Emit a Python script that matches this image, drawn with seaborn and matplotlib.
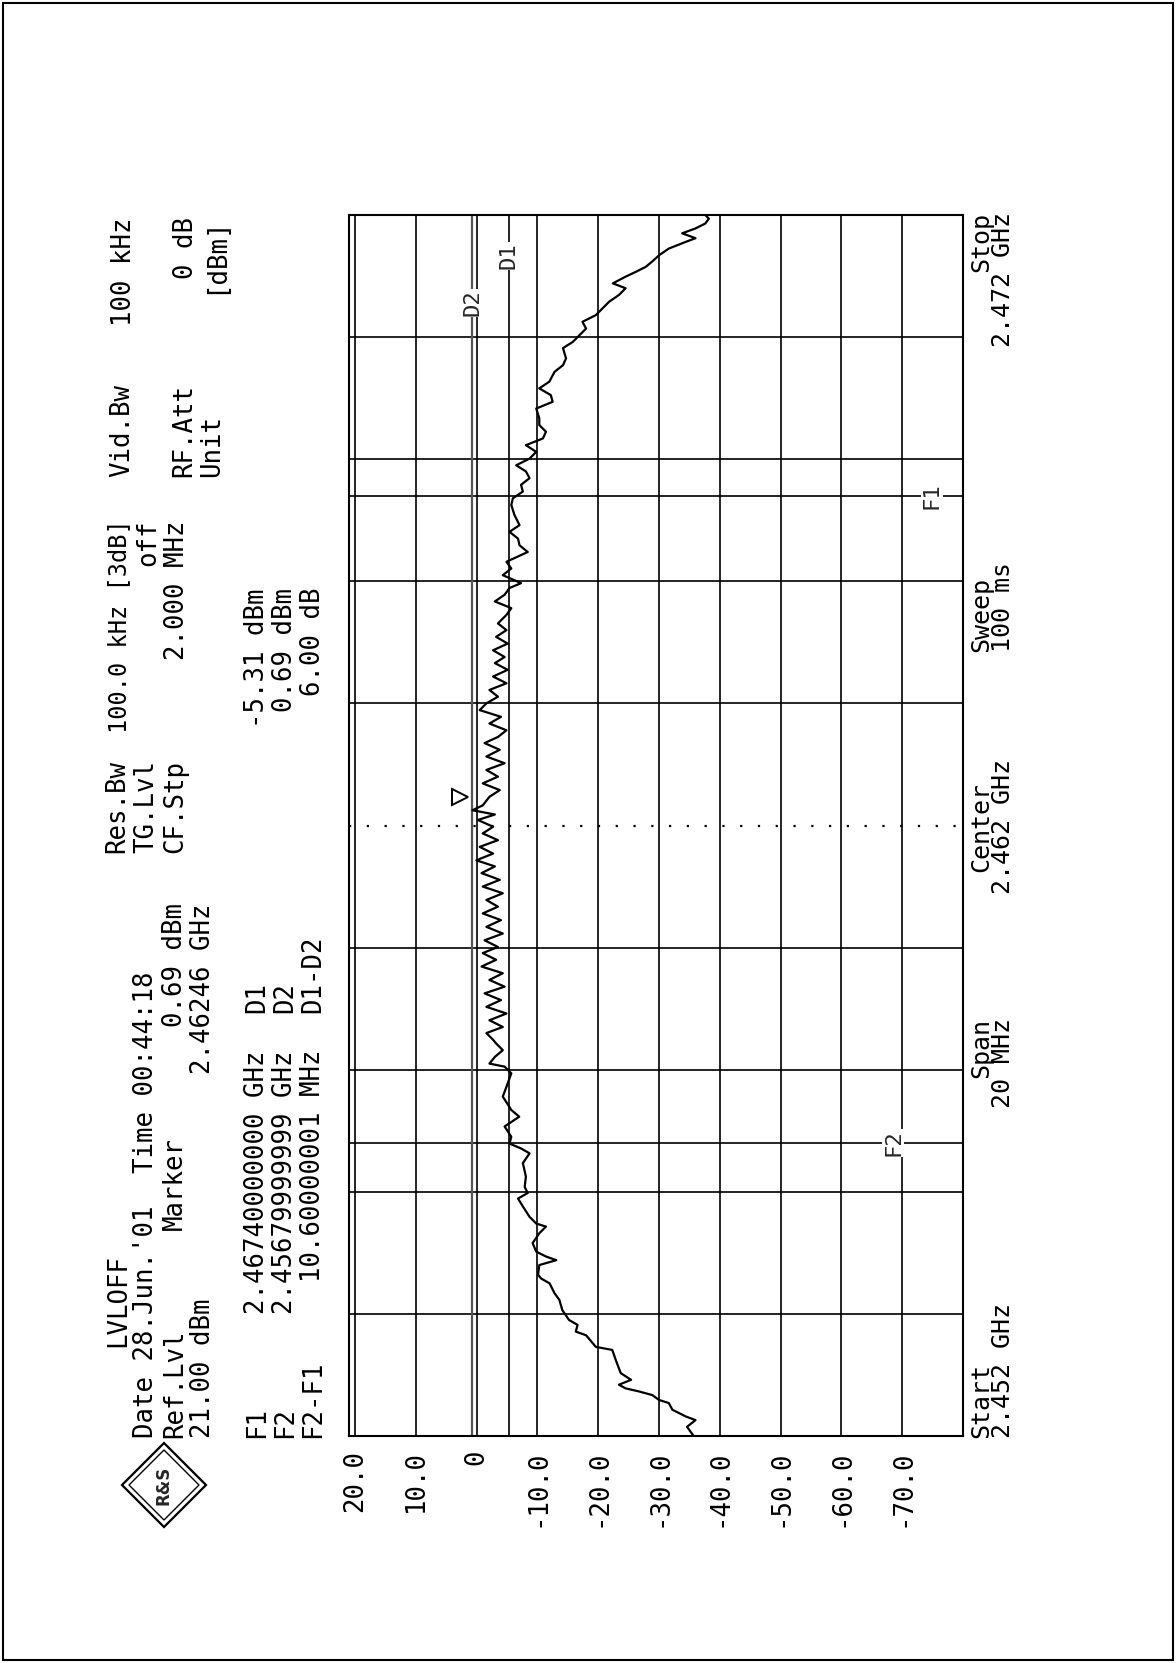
import matplotlib
matplotlib.use("Agg")
import matplotlib.pyplot as plt
from matplotlib.patches import Polygon, Rectangle
import pandas as pd
import seaborn as sns

W, H = 1176, 1663

# sweep settings
START_GHZ = 2.452
SPAN_MHZ = 20
REF_LVL = 21.0
BOTTOM_LVL = -80.0

# trace, frequency as MHz above start, level in dBm
freq_mhz = [
    0.00, 0.15, 0.26, 0.32, 0.43, 0.54, 0.59, 0.67, 0.73, 0.78, 0.84, 0.92, 1.03, 1.24, 1.41,
    1.46, 1.52, 1.65, 1.71, 1.82, 1.90, 2.06, 2.23, 2.34, 2.50, 2.58, 2.64, 2.80, 2.88, 2.94,
    3.02, 3.16, 3.32, 3.43, 3.48, 3.59, 3.76, 3.89, 3.98, 4.08, 4.25, 4.47, 4.63, 4.71, 4.79,
    4.90, 5.07, 5.23, 5.34, 5.56, 5.72, 5.94, 6.05, 6.10, 6.21, 6.32, 6.43,
    6.49, 6.60, 6.70, 6.81, 6.92, 7.03, 7.14, 7.25, 7.36, 7.47, 7.58, 7.69, 7.80, 7.91, 8.01,
    8.12, 8.23, 8.34, 8.45, 8.56, 8.67, 8.78, 8.89, 9.00, 9.11, 9.22, 9.33, 9.43, 9.54, 9.65,
    9.76, 9.87, 9.98, 10.09, 10.18, 10.25, 10.33, 10.47, 10.58, 10.69, 10.80, 10.91, 11.02,
    11.13, 11.24, 11.35, 11.45, 11.56, 11.67, 11.78, 11.89, 12.00, 12.11, 12.22, 12.33, 12.44,
    12.55, 12.66, 12.76, 12.87, 12.98, 13.09, 13.20, 13.31,
    13.45, 13.56, 13.67, 13.78, 13.89, 13.97, 14.10, 14.21, 14.32, 14.48, 14.59, 14.70, 14.81,
    14.92, 15.09, 15.25, 15.36, 15.47, 15.58, 15.69, 15.80, 15.90, 16.01, 16.12, 16.23, 16.34,
    16.45, 16.56, 16.67, 16.83, 16.94, 17.05, 17.16, 17.27, 17.43, 17.54, 17.65, 17.82, 17.92,
    18.03, 18.14, 18.25, 18.36, 18.47, 18.58, 18.69, 18.80, 18.88, 18.99, 19.07, 19.15, 19.24,
    19.34, 19.45, 19.56, 19.62, 19.70, 19.78, 19.86, 19.94, 20.00,
]
level_dbm = [
    -35.7, -34.6, -36.0, -34.4, -32.2, -31.6, -30.0, -28.9, -26.7, -24.5, -23.4, -25.4, -23.7, -22.9, -22.3,
    -19.6, -19.1, -18.0, -16.3, -16.6, -15.2, -14.1, -13.6, -12.8, -12.0, -10.6, -10.1, -10.3, -13.1, -11.4,
    -9.8, -9.2, -10.3, -11.4, -9.8, -8.7, -7.6, -6.8, -8.4, -7.9, -8.1, -7.6, -8.7, -7.3, -5.4,
    -5.7, -4.6, -7.0, -5.7, -4.3, -4.9, -5.7, -4.6, -2.1, -3.0, -4.3, -3.2,
    -2.7, -1.6, -4.3, -2.1, -4.9, -1.6, -4.0, -1.3, -4.6, -2.1, -4.3, -0.8, -3.2, -1.0, -3.5,
    -1.3, -4.3, -1.6, -4.0, -1.0, -3.5, -1.6, -4.3, -1.0, -3.8, -0.8, -3.0, 0.05, -2.7, -0.5,
    -3.5, -1.0, -2.7, -0.2, -3.0, 0.69, -1.0, -2.1, -3.8, -1.0, -3.5, -1.6, -4.6,
    -1.6, -3.8, -1.3, -3.5, -4.9, -2.1, -4.0, -0.5, -1.6, -3.5, -2.1, -4.9, -2.7,
    -5.1, -3.0, -4.6, -2.7, -5.1, -3.2, -4.9, -3.5,
    -4.9, -5.7, -3.0, -4.6, -5.4, -7.3, -4.3, -5.7, -4.9, -8.4, -7.05, -6.8, -5.4,
    -7.05, -6.2, -5.7, -5.96, -7.6, -7.3, -8.7, -8.1, -6.5, -8.7, -9.8, -8.1, -10.9,
    -11.4, -10.3, -10.3, -9.8, -12.5, -12.2, -10.3, -11.96, -12.8, -14.2, -14.7, -14.2, -15.8,
    -16.9, -18.0, -17.4, -19.6, -20.7, -21.8, -23.4, -24.5, -22.4, -24.5, -26.2, -27.8, -28.9,
    -30.0, -31.6, -34.4, -36.0, -33.8, -36.0, -37.6, -38.2, -37.6,
]

level_ticks = [20, 10, 0, -10, -20, -30, -40, -50, -60, -70]
level_tick_labels = ["20.0", "10.0", "0", "-10.0", "-20.0", "-30.0", "-40.0", "-50.0", "-60.0", "-70.0"]
freq_grid = [2, 4, 6, 8, 12, 14, 16, 18]

# markers and display lines
MK_GHZ = 2.46246
MK_LVL = 0.69
F1_GHZ = 2.4674
F2_GHZ = 2.4568
D1 = -5.31
D2 = 0.69


def fx(x):
    return x / W


def fy(y):
    return 1 - y / H


sns.set_theme(style="white")
plt.rcParams["font.family"] = ["DejaVu Sans Mono", "DejaVu Sans"]

fig = plt.figure(figsize=(W / 100, H / 100), dpi=100)
ax = fig.add_axes([fx(349), fy(1436), (963 - 349) / W, (1436 - 215) / H])

for lv in level_ticks:
    ax.axvline(lv, color="black", lw=1.2, zorder=1)
for fg in freq_grid:
    ax.axhline(fg, color="black", lw=1.2, zorder=1)
ax.axhline(SPAN_MHZ / 2, color="black", lw=1.6, ls=(0, (1, 7)), zorder=1)

f1 = (F1_GHZ - START_GHZ) * 1000
f2 = (F2_GHZ - START_GHZ) * 1000
mk = (MK_GHZ - START_GHZ) * 1000
ax.axhline(f1, color="black", lw=1.2, zorder=1)
ax.axhline(f2, color="black", lw=1.2, zorder=1)
ax.axvline(D1, color="black", lw=1.2, zorder=1)
ax.axvline(D2, color="#555555", lw=1.6, zorder=1)

trace = pd.DataFrame({"level": level_dbm, "freq": freq_mhz})
sns.lineplot(data=trace, x="level", y="freq", sort=False, estimator=None,
             color="black", lw=1.6, ax=ax, zorder=3)

ax.plot([MK_LVL + 2.1], [mk], marker=">", ms=11, mfc="white", mec="black", mew=1.4, zorder=4)

lbl = dict(rotation=90, ha="center", va="center", fontsize=16, zorder=5,
           bbox=dict(facecolor="white", edgecolor="none", pad=0.5))
ax.text(-74.9, f1, "F1", **lbl)
ax.text(-68.5, f2, "F2", **lbl)
ax.text(D2, 18.56, "D2", **lbl)
ax.text(D1, 19.33, "D1", **lbl)

ax.set_xlim(REF_LVL, BOTTOM_LVL)
ax.set_ylim(0, SPAN_MHZ)
ax.set_xticks(level_ticks)
ax.set_xticklabels(level_tick_labels, rotation=90, fontsize=18.5)
ax.set_yticks([])
ax.tick_params(axis="x", length=0, pad=10, colors="black")
ax.set_xlabel("")
ax.set_ylabel("")
for sp in ax.spines.values():
    sp.set_visible(True)
    sp.set_color("black")
    sp.set_linewidth(1.5)

# header block, rotated with the page
header = [
    ("LVLOFF", 118, 1347, "bottom"),
    ("Date 28.Jun.'01", 146, 1438, "bottom"),
    ("Time 00:44:18", 146, 1173, "bottom"),
    ("Ref.Lvl", 175, 1438, "bottom"),
    ("Marker", 175, 1230, "bottom"),
    (f"{REF_LVL:.2f} dBm", 203, 1438, "bottom"),
    (f"{MK_LVL:.2f} dBm", 175, 903, "top"),
    (f"{MK_GHZ:.5f} GHz", 203, 903, "top"),
    ("F1", 257, 1438, "bottom"),
    ("F2", 285, 1438, "bottom"),
    ("F2-F1", 313, 1438, "bottom"),
    ("2.46740000000 GHz", 257, 1050, "top"),
    ("2.45679999999 GHz", 285, 1050, "top"),
    ("10.60000001 MHz", 313, 1050, "top"),
    ("D1", 257, 1013, "bottom"),
    ("D2", 285, 1013, "bottom"),
    ("D1-D2", 313, 1013, "bottom"),
    (f"{D1:.2f} dBm", 257, 588, "top"),
    (f"{D2:.2f} dBm", 285, 588, "top"),
    (f"{D2 - D1:.2f} dB", 313, 588, "top"),
    ("Res.Bw", 117, 853, "bottom"),
    ("TG.Lvl", 146, 853, "bottom"),
    ("CF.Stp", 175, 853, "bottom"),
    ("off", 148, 520, "top"),
    ("2.000 MHz", 177, 520, "top"),
    ("Vid.Bw", 122, 477, "bottom"),
    ("RF.Att", 184, 477, "bottom"),
    ("Unit", 212, 477, "bottom"),
    ("100 kHz", 124, 217, "top"),
    ("0 dB", 186, 217, "top"),
    ("[dBm]", 215, 217, "top"),
]
for txt, x, y, va in header:
    fig.text(fx(x), fy(y), txt, rotation=90, ha="center", va=va, fontsize=18.5, color="black")
fig.text(fx(119), fy(626), "100.0 kHz [3dB]", rotation=90, ha="center", va="center",
         fontsize=17, color="black")

footer = [
    ("Start", 981, 1438, "bottom"),
    (f"{START_GHZ:.3f} GHz", 1003, 1438, "bottom"),
    ("Span", 981, 1018, "top"),
    (f"{SPAN_MHZ} MHz", 1003, 1018, "top"),
    ("Center", 981, 827, "center"),
    (f"{START_GHZ + SPAN_MHZ / 2000:.3f} GHz", 1003, 827, "center"),
    ("Sweep", 981, 652, "bottom"),
    ("100 ms", 1003, 652, "bottom"),
    ("Stop", 981, 212, "top"),
    (f"{START_GHZ + SPAN_MHZ / 1000:.3f} GHz", 1003, 212, "top"),
]
for txt, x, y, va in footer:
    fig.text(fx(x), fy(y), txt, rotation=90, ha="center", va=va, fontsize=18, color="black")

# R&S logo
cx, cy, r = 164, 1485, 42
fig.patches.append(Polygon([(fx(cx), fy(cy - r)), (fx(cx + r), fy(cy)), (fx(cx), fy(cy + r)),
                            (fx(cx - r), fy(cy))], closed=True, fill=False, ec="black", lw=1.6,
                           transform=fig.transFigure))
r2 = 35
fig.patches.append(Polygon([(fx(cx), fy(cy - r2)), (fx(cx + r2), fy(cy)), (fx(cx), fy(cy + r2)),
                            (fx(cx - r2), fy(cy))], closed=True, fill=False, ec="black", lw=1.0,
                           transform=fig.transFigure))
fig.text(fx(cx), fy(cy), "R&S", rotation=90, ha="center", va="center", fontsize=12,
         fontweight="bold", family="DejaVu Sans")

# page border
fig.patches.append(Rectangle((fx(3), fy(1660)), (1173 - 3) / W, (1660 - 3) / H, fill=False,
                             ec="black", lw=1.5, transform=fig.transFigure))

fig.savefig("out.png", dpi=100, facecolor="white")
plt.close(fig)
